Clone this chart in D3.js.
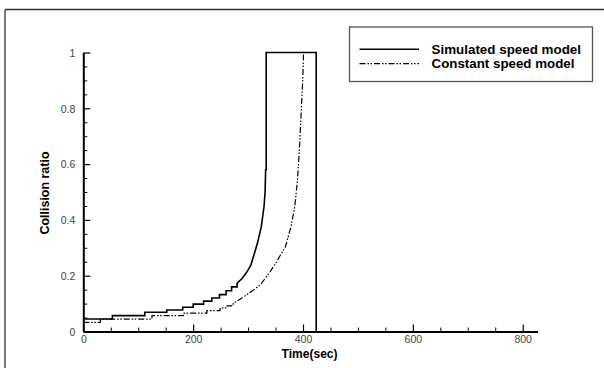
<!DOCTYPE html>
<html>
<head>
<meta charset="utf-8">
<script src="https://cdn.jsdelivr.net/npm/d3@7"></script>
<style>
  html, body { margin: 0; padding: 0; background: #fff; }
  svg { display: block; }
  text { font-family: "Liberation Sans", Arial, sans-serif; }
</style>
</head>
<body>
<svg id="chart" width="604" height="368"></svg>
<script>
// ---- data ----
const xTickValues = [0, 200, 400, 600, 800];
const xTickLabels = ["0", "200", "400", "600", "800"];
const yTickValues = [0, 0.2, 0.4, 0.6, 0.8, 1];
const yTickLabels = ["0", "0.2", "0.4", "0.6", "0.8", "1"];
const xMinorTicks = [50, 100, 150, 250, 300, 350, 450, 500, 550, 650, 700, 750];
const yMinorTicks = [0.05, 0.1, 0.15, 0.25, 0.3, 0.35, 0.45, 0.5, 0.55, 0.65, 0.7, 0.75, 0.85, 0.9, 0.95];

const seriesNames = ["Simulated speed model", "Constant speed model"];

const simTime  = [0, 53, 53, 112, 112, 152, 152, 181, 181, 200, 200, 219, 219, 234, 234, 248, 248, 260, 260, 270, 270, 280, 280, 289, 298, 305, 310, 317, 324, 329, 331, 332, 333, 333, 424, 424];
const simRatio = [0.045, 0.045, 0.057, 0.057, 0.069, 0.069, 0.077, 0.077, 0.087, 0.087, 0.098, 0.098, 0.109, 0.109, 0.12, 0.12, 0.132, 0.132, 0.146, 0.146, 0.16, 0.16, 0.173, 0.19, 0.214, 0.238, 0.27, 0.316, 0.375, 0.447, 0.5, 0.58, 0.58, 1, 1, 0];

const conTime  = [0, 31, 31, 125, 125, 182, 182, 225, 225, 249, 249, 262, 262, 273, 273, 288, 297, 310, 322, 331, 340, 350, 359, 368, 378, 385, 390, 394, 397, 399.5, 401];
const conRatio = [0.033, 0.033, 0.044, 0.044, 0.057, 0.057, 0.066, 0.066, 0.075, 0.075, 0.085, 0.085, 0.092, 0.092, 0.101, 0.119, 0.131, 0.149, 0.167, 0.19, 0.214, 0.244, 0.274, 0.304, 0.375, 0.447, 0.543, 0.674, 0.80, 0.90, 1.0];

// ---- layout ----
const svg = d3.select("#chart");
const plotLeft = 83.3, plotTop = 52.5, plotBottom = 331.5;
const x = d3.scaleLinear().domain([0, 827]).range([plotLeft, plotLeft + 827 * (439.4 / 800)]);
const y = d3.scaleLinear().domain([0, 1]).range([plotBottom, plotTop]);

// outer frame (top and left only, as in the cropped reference)
svg.append("line").attr("x1", 5).attr("x2", 604).attr("y1", 9.5).attr("y2", 9.5)
  .attr("stroke", "#333").attr("stroke-width", 1.3);
svg.append("line").attr("x1", 5).attr("x2", 5).attr("y1", 9.5).attr("y2", 368)
  .attr("stroke", "#333").attr("stroke-width", 1.3);

// minor ticks
svg.append("g").attr("transform", `translate(0,${plotBottom})`)
  .call(d3.axisBottom(x).tickValues(xMinorTicks).tickSize(-4).tickSizeOuter(0).tickFormat(""))
  .call(g => g.select(".domain").remove())
  .call(g => g.selectAll("line").attr("stroke", "#000").attr("stroke-width", 1));
svg.append("g").attr("transform", `translate(${plotLeft},0)`)
  .call(d3.axisLeft(y).tickValues(yMinorTicks).tickSize(-4).tickSizeOuter(0).tickFormat(""))
  .call(g => g.select(".domain").remove())
  .call(g => g.selectAll("line").attr("stroke", "#000").attr("stroke-width", 1));

// major axes
const xAxis = svg.append("g").attr("transform", `translate(0,${plotBottom})`)
  .call(d3.axisBottom(x).tickValues(xTickValues).tickSize(-7).tickSizeOuter(0).tickPadding(4)
    .tickFormat((d, i) => xTickLabels[i]));
const yAxis = svg.append("g").attr("transform", `translate(${plotLeft},0)`)
  .call(d3.axisLeft(y).tickValues(yTickValues).tickSize(-7).tickSizeOuter(0).tickPadding(8)
    .tickFormat((d, i) => yTickLabels[i]));
[xAxis, yAxis].forEach(g => {
  g.select(".domain").attr("stroke", "#000").attr("stroke-width", 2);
  g.selectAll(".tick line").attr("stroke", "#000").attr("stroke-width", 1.2);
  g.selectAll(".tick text").attr("fill", "#444").style("font-size", "10.5px")
    .style("font-family", "'Liberation Sans', Arial, sans-serif");
});
yAxis.selectAll(".tick text").attr("dy", "0.36em");

// axis titles
svg.append("text").attr("x", x(412)).attr("y", 357.5).attr("text-anchor", "middle")
  .style("font-size", "13px").style("font-weight", "bold")
  .attr("textLength", 56).attr("lengthAdjust", "spacingAndGlyphs").text("Time(sec)");
svg.append("text").attr("transform", `translate(49,${193}) rotate(-90)`).attr("text-anchor", "middle")
  .style("font-size", "13px").style("font-weight", "bold")
  .attr("textLength", 83).attr("lengthAdjust", "spacingAndGlyphs").text("Collision ratio");

// series lines
const line = d3.line().x(d => x(d[0])).y(d => y(d[1]));
const simData = simTime.map((t, i) => [t, simRatio[i]]);
const conData = conTime.map((t, i) => [t, conRatio[i]]);
const dashDotDot = "6,2,1.5,1.5,1.5,2";

svg.append("path").datum(conData).attr("d", line).attr("fill", "none")
  .attr("stroke", "#000").attr("stroke-width", 1.2).attr("stroke-dasharray", dashDotDot);
svg.append("path").datum(simData).attr("d", line).attr("fill", "none")
  .attr("stroke", "#000").attr("stroke-width", 1.6);

// legend
const lg = svg.append("g");
lg.append("rect").attr("x", 349.5).attr("y", 27).attr("width", 243).attr("height", 54.5)
  .attr("fill", "#fff").attr("stroke", "#555").attr("stroke-width", 1.3);
const legendStyles = [{dash: null, w: 1.6}, {dash: dashDotDot, w: 1.2}];
seriesNames.forEach((name, i) => {
  const yy = 49.3 + i * 14.4;
  lg.append("line").attr("x1", 359.5).attr("x2", 419).attr("y1", yy).attr("y2", yy)
    .attr("stroke", "#000").attr("stroke-width", legendStyles[i].w)
    .attr("stroke-dasharray", legendStyles[i].dash);
  const txt = lg.append("text").attr("x", 431.5).attr("y", yy + 4.3)
    .style("font-size", "13px").style("font-weight", "bold").text(name);
  txt.attr("textLength", i === 0 ? 149.5 : 143).attr("lengthAdjust", "spacingAndGlyphs");
});
</script>
</body>
</html>
